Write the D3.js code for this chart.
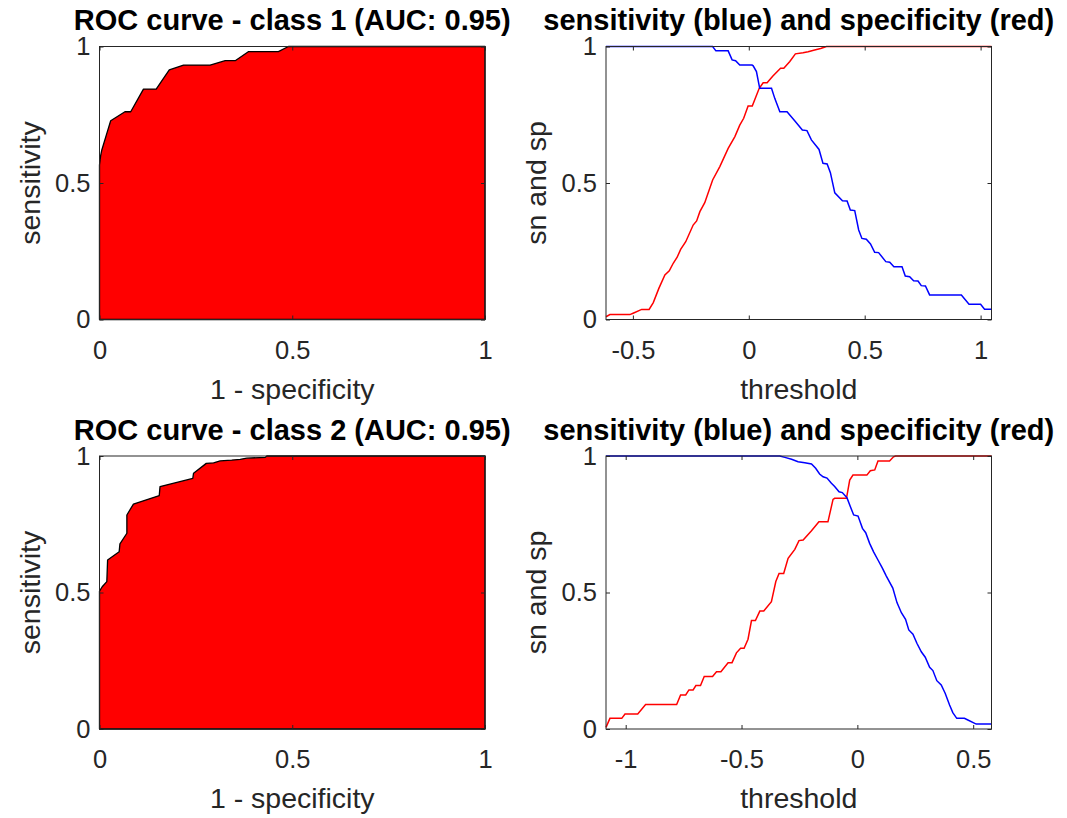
<!DOCTYPE html>
<html>
<head>
<meta charset="utf-8">
<script src="https://cdn.jsdelivr.net/npm/d3@7"></script>
<style>
  html, body { margin: 0; padding: 0; background: #ffffff; }
  svg { display: block; }
</style>
</head>
<body>
<svg id="chart" width="1067" height="818"></svg>
<script>
// ---- Class 1 ROC curve (false positive rate vs true positive rate) ----
const roc1Fpr = [0, 0, 0.003, 0.006, 0.019, 0.029, 0.066, 0.081, 0.114, 0.147, 0.181, 0.218, 0.287, 0.326, 0.352, 0.386, 0.464, 0.490, 1];
const roc1Tpr = [0, 0.566, 0.600, 0.621, 0.682, 0.728, 0.761, 0.761, 0.844, 0.844, 0.914, 0.932, 0.932, 0.948, 0.948, 0.981, 0.981, 1, 1];

// ---- Class 1 sensitivity / specificity against threshold ----
const sens1Thr = [-0.616, -0.156, -0.142, -0.089, -0.072, -0.057, -0.039, 0.014, 0.019, 0.033, 0.047, 0.098, 0.112, 0.134, 0.165, 0.198, 0.231, 0.251, 0.270, 0.303, 0.320, 0.338, 0.352, 0.371, 0.404, 0.424, 0.438, 0.457, 0.474, 0.488, 0.507, 0.525, 0.543, 0.560, 0.591, 0.608, 0.626, 0.661, 0.675, 0.694, 0.711, 0.730, 0.744, 0.762, 0.780, 0.917, 0.950, 1.000, 1.017, 1.047];
const sens1Val = [1, 1, 0.984, 0.984, 0.951, 0.948, 0.932, 0.932, 0.929, 0.908, 0.847, 0.847, 0.810, 0.761, 0.761, 0.728, 0.694, 0.692, 0.658, 0.623, 0.572, 0.570, 0.538, 0.464, 0.435, 0.434, 0.401, 0.399, 0.328, 0.297, 0.294, 0.277, 0.246, 0.245, 0.212, 0.210, 0.193, 0.193, 0.159, 0.157, 0.142, 0.141, 0.124, 0.123, 0.090, 0.090, 0.056, 0.056, 0.038, 0.038];
const spec1Thr = [-0.616, -0.599, -0.513, -0.499, -0.462, -0.430, -0.412, -0.388, -0.362, -0.343, -0.326, -0.309, -0.294, -0.272, -0.240, -0.225, -0.211, -0.190, -0.156, -0.125, -0.089, -0.060, -0.039, -0.022, -0.003, 0.015, 0.045, 0.062, 0.079, 0.103, 0.137, 0.151, 0.177, 0.201, 0.234, 0.256, 0.284, 0.310, 0.335, 1.047];
const spec1Val = [0.010, 0.018, 0.018, 0.023, 0.037, 0.037, 0.062, 0.114, 0.163, 0.178, 0.206, 0.228, 0.257, 0.285, 0.346, 0.361, 0.395, 0.428, 0.511, 0.560, 0.627, 0.670, 0.712, 0.737, 0.782, 0.782, 0.847, 0.867, 0.867, 0.891, 0.920, 0.920, 0.945, 0.973, 0.977, 0.981, 0.987, 0.993, 1, 1];

// ---- Class 2 ROC curve ----
const roc2Fpr = [0, 0, 0.007, 0.019, 0.021, 0.051, 0.053, 0.071, 0.071, 0.088, 0.155, 0.157, 0.242, 0.244, 0.277, 0.296, 0.313, 0.343, 0.365, 0.382, 0.430, 0.434, 1];
const roc2Tpr = [0, 0.505, 0.521, 0.540, 0.619, 0.649, 0.678, 0.717, 0.784, 0.824, 0.855, 0.888, 0.918, 0.937, 0.973, 0.975, 0.982, 0.985, 0.988, 0.992, 0.995, 1, 1];

// ---- Class 2 sensitivity / specificity against threshold ----
const sens2Thr = [-1.085, -0.335, -0.313, -0.284, -0.256, -0.227, -0.198, -0.180, -0.163, -0.148, -0.131, -0.112, -0.098, -0.079, -0.065, -0.045, -0.030, -0.016, 0.003, 0.022, 0.036, 0.053, 0.070, 0.089, 0.108, 0.125, 0.153, 0.171, 0.190, 0.208, 0.222, 0.240, 0.257, 0.276, 0.293, 0.312, 0.326, 0.343, 0.362, 0.379, 0.398, 0.412, 0.429, 0.462, 0.477, 0.513, 0.579];
const sens2Val = [1, 1, 0.995, 0.988, 0.979, 0.975, 0.971, 0.955, 0.934, 0.924, 0.919, 0.900, 0.888, 0.869, 0.866, 0.847, 0.814, 0.784, 0.780, 0.735, 0.719, 0.680, 0.649, 0.619, 0.589, 0.560, 0.516, 0.463, 0.426, 0.402, 0.363, 0.347, 0.314, 0.283, 0.263, 0.226, 0.214, 0.177, 0.161, 0.131, 0.088, 0.060, 0.039, 0.039, 0.033, 0.018, 0.018];
const spec2Thr = [-1.085, -1.068, -1.017, -1.003, -0.948, -0.914, -0.780, -0.763, -0.741, -0.727, -0.709, -0.697, -0.677, -0.661, -0.625, -0.608, -0.589, -0.558, -0.541, -0.522, -0.504, -0.489, -0.472, -0.457, -0.440, -0.421, -0.404, -0.371, -0.352, -0.338, -0.318, -0.299, -0.270, -0.252, -0.234, -0.198, -0.166, -0.127, -0.105, -0.098, -0.047, -0.033, -0.019, 0.041, 0.056, 0.075, 0.089, 0.139, 0.156, 0.165, 0.579];
const spec2Val = [0.006, 0.039, 0.039, 0.055, 0.055, 0.090, 0.090, 0.125, 0.125, 0.143, 0.143, 0.159, 0.159, 0.192, 0.192, 0.210, 0.210, 0.243, 0.243, 0.279, 0.296, 0.296, 0.329, 0.397, 0.397, 0.432, 0.432, 0.466, 0.540, 0.570, 0.570, 0.625, 0.658, 0.690, 0.692, 0.726, 0.759, 0.759, 0.841, 0.845, 0.845, 0.912, 0.930, 0.930, 0.946, 0.949, 0.982, 0.982, 0.997, 1, 1];

// ---- Labels ----
const rocTitles = ["ROC curve - class 1 (AUC: 0.95)", "ROC curve - class 2 (AUC: 0.95)"];
const snspTitle = "sensitivity (blue) and specificity (red)";
const unitTicks = [0, 0.5, 1];
const thrTicks1 = [-0.5, 0, 0.5, 1];
const thrTicks2 = [-1, -0.5, 0, 0.5];

const zip = (xs, ys) => xs.map((x, i) => [x, ys[i]]);

const svg = d3.select("#chart");
const FONT = "'Liberation Sans', Arial, Helvetica, sans-serif";
const AXIS_COLOR = "#262626";
const tickFmt = d => String(d);

// Panel frames in page coordinates
const leftX = 99.5, rightX = 606, panelW = 385.5, panelH = 273;
const rowY = [46.5, 456];

function frame(g, w, h) {
  g.append("rect")
    .attr("x", 0).attr("y", 0).attr("width", w).attr("height", h)
    .attr("fill", "none").attr("stroke", AXIS_COLOR).attr("stroke-width", 1);
}

function axes(g, x, y, w, h, xTicks, yTicks) {
  const styleAxis = sel => {
    sel.select(".domain").remove();
    sel.selectAll(".tick line").attr("stroke", AXIS_COLOR);
    sel.selectAll(".tick text")
      .attr("fill", AXIS_COLOR)
      .style("font-family", FONT)
      .style("font-size", "25.5px");
  };
  g.append("g").attr("transform", `translate(0,${h})`)
    .call(d3.axisBottom(x).tickValues(xTicks).tickFormat(tickFmt)
      .tickSizeInner(-4).tickSizeOuter(0).tickPadding(21))
    .call(styleAxis);
  g.append("g")
    .call(d3.axisTop(x).tickValues(xTicks).tickFormat("")
      .tickSizeInner(-4).tickSizeOuter(0))
    .call(styleAxis);
  g.append("g")
    .call(d3.axisLeft(y).tickValues(yTicks).tickFormat(tickFmt)
      .tickSizeInner(-4).tickSizeOuter(0).tickPadding(9))
    .call(styleAxis);
  g.append("g").attr("transform", `translate(${w},0)`)
    .call(d3.axisRight(y).tickValues(yTicks).tickFormat("")
      .tickSizeInner(-4).tickSizeOuter(0))
    .call(styleAxis);
}

function labels(g, w, h, title, xLabel, yLabel, yLabelX) {
  g.append("text")
    .attr("x", w / 2).attr("y", -16.5)
    .attr("text-anchor", "middle")
    .style("font-family", FONT).style("font-size", "29px").style("font-weight", "bold")
    .attr("fill", "#000")
    .text(title);
  g.append("text")
    .attr("x", w / 2).attr("y", h + 79)
    .attr("text-anchor", "middle")
    .style("font-family", FONT).style("font-size", "28.5px")
    .attr("fill", AXIS_COLOR)
    .text(xLabel);
  g.append("text")
    .attr("transform", `translate(${yLabelX},${h / 2}) rotate(-90)`)
    .attr("text-anchor", "middle")
    .style("font-family", FONT).style("font-size", "28.5px")
    .attr("fill", AXIS_COLOR)
    .text(yLabel);
}

function rocPanel(px, py, fpr, tpr, title) {
  const g = svg.append("g").attr("transform", `translate(${px},${py})`);
  const x = d3.scaleLinear().domain([0, 1]).range([0, panelW]);
  const y = d3.scaleLinear().domain([0, 1]).range([panelH, 0]);
  const pts = zip(fpr, tpr).concat([[1, 0]]);
  g.append("path")
    .attr("d", d3.line().x(d => x(d[0])).y(d => y(d[1]))(pts) + "Z")
    .attr("fill", "#ff0000")
    .attr("stroke", "#000")
    .attr("stroke-width", 1.3)
    .attr("stroke-linejoin", "round");
  frame(g, panelW, panelH);
  axes(g, x, y, panelW, panelH, unitTicks, unitTicks);
  labels(g, panelW, panelH, title, "1 - specificity", "sensitivity", -60);
}

function snspPanel(px, py, sThr, sVal, pThr, pVal, xTicks) {
  const g = svg.append("g").attr("transform", `translate(${px},${py})`);
  const x = d3.scaleLinear().domain(d3.extent(sThr.concat(pThr))).range([0, panelW]);
  const y = d3.scaleLinear().domain([0, 1]).range([panelH, 0]);
  const line = d3.line().x(d => x(d[0])).y(d => y(d[1]));
  g.append("path").attr("d", line(zip(pThr, pVal)))
    .attr("fill", "none").attr("stroke", "#ff0000").attr("stroke-width", 1.5);
  g.append("path").attr("d", line(zip(sThr, sVal)))
    .attr("fill", "none").attr("stroke", "#0000ff").attr("stroke-width", 1.5);
  frame(g, panelW, panelH);
  axes(g, x, y, panelW, panelH, xTicks, unitTicks);
  labels(g, panelW, panelH, snspTitle, "threshold", "sn and sp", -60);
}

rocPanel(leftX, rowY[0], roc1Fpr, roc1Tpr, rocTitles[0]);
snspPanel(rightX, rowY[0], sens1Thr, sens1Val, spec1Thr, spec1Val, thrTicks1);
rocPanel(leftX, rowY[1], roc2Fpr, roc2Tpr, rocTitles[1]);
snspPanel(rightX, rowY[1], sens2Thr, sens2Val, spec2Thr, spec2Val, thrTicks2);
</script>
</body>
</html>
